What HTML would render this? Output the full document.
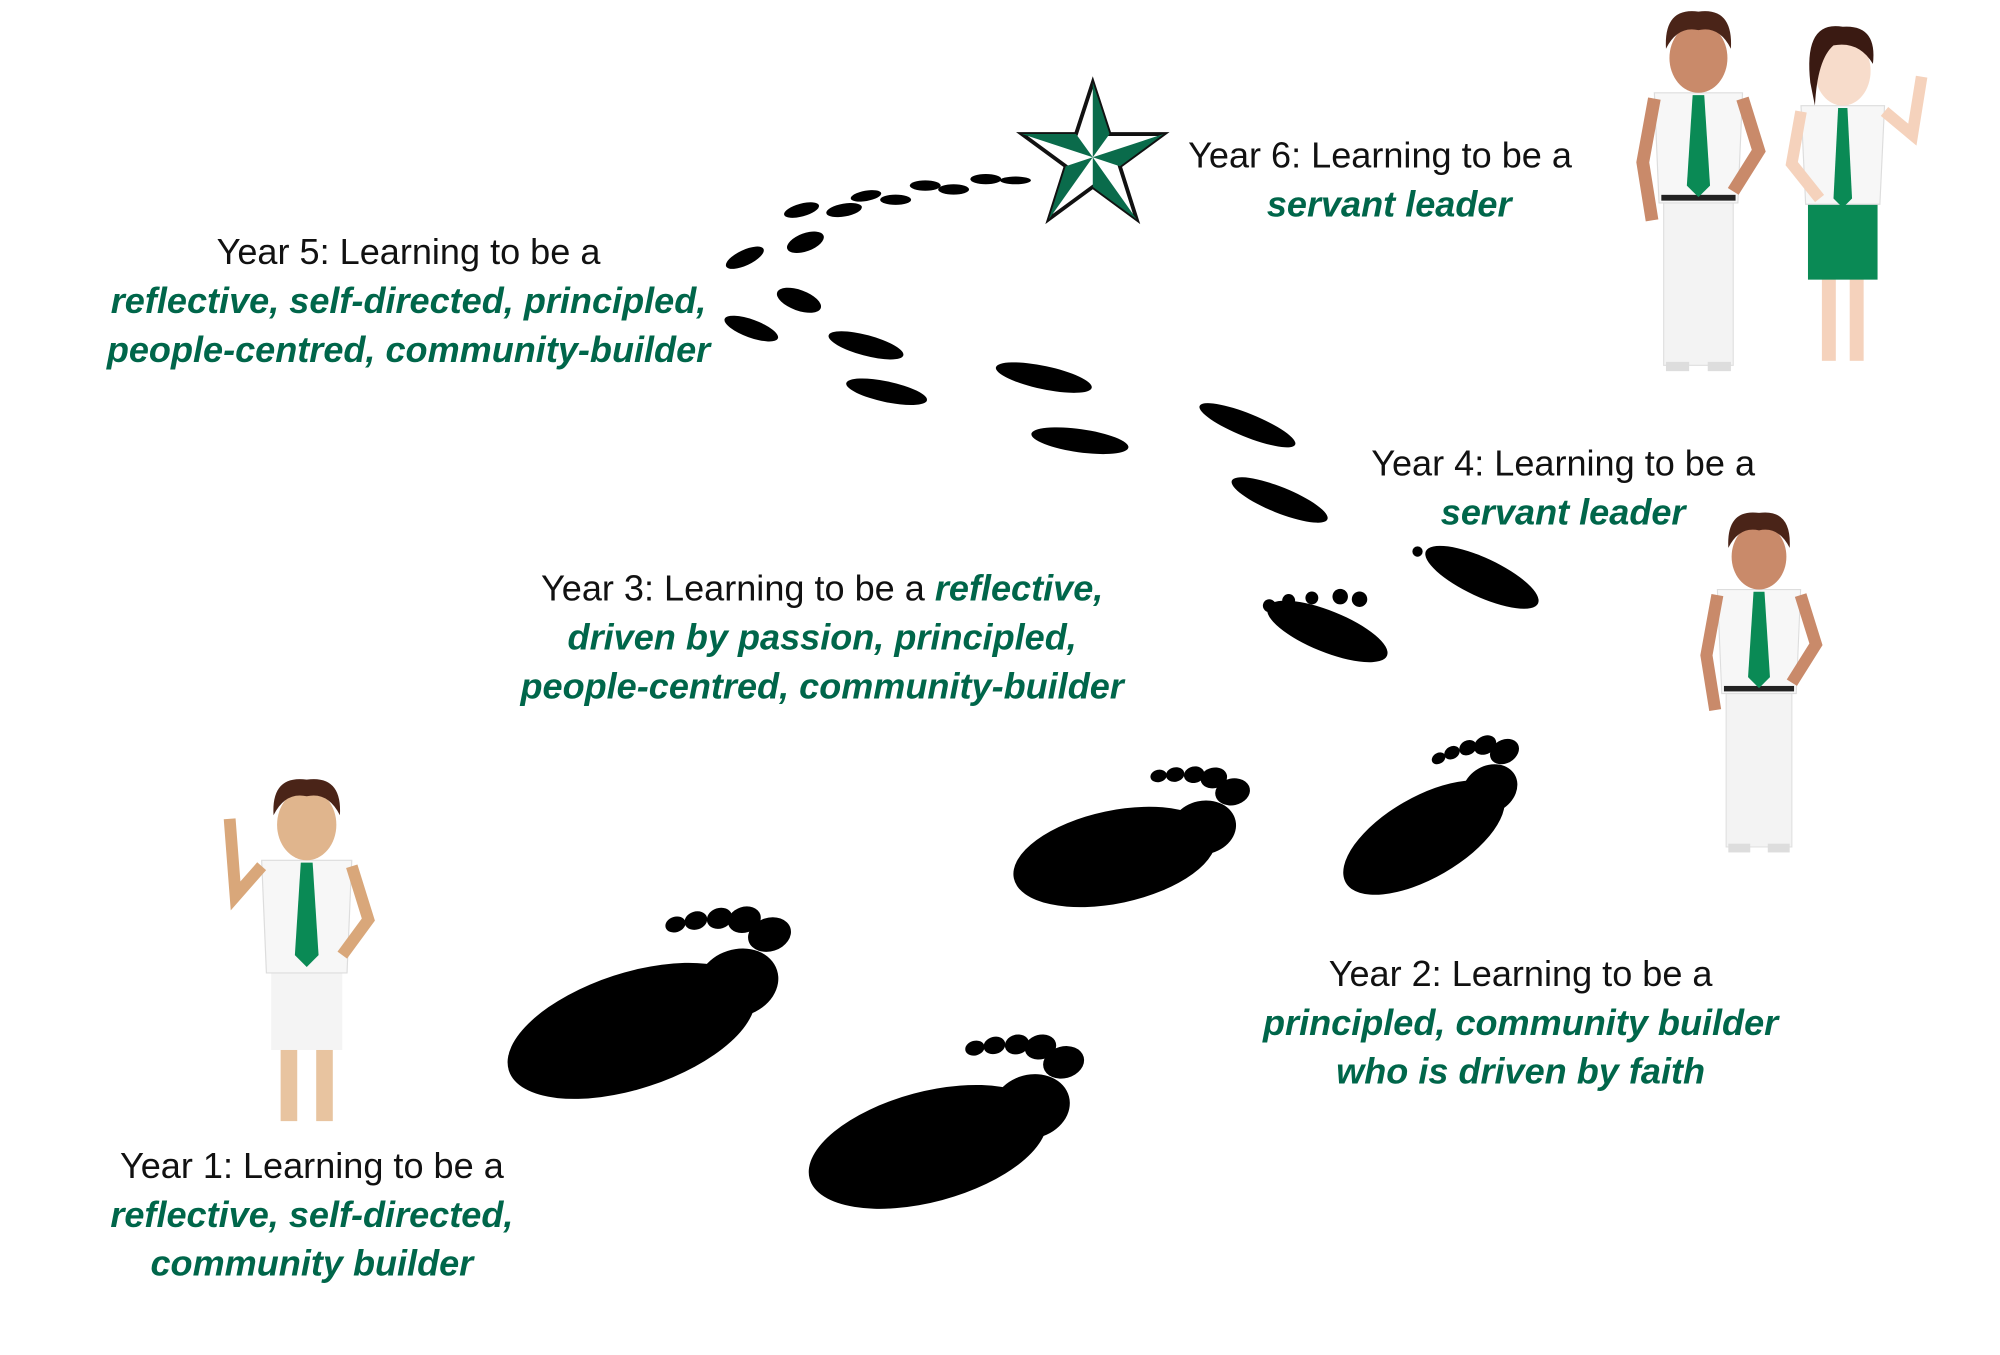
<!DOCTYPE html>
<html><head><meta charset="utf-8"><style>
html,body{margin:0;padding:0;background:#fff;}
svg{display:block;}
text{font-family:"Liberation Sans",sans-serif;font-size:28px;}
.b{fill:#111;}
.g{fill:#00664a;font-weight:bold;font-style:italic;}
</style></head><body>
<svg width="2000" height="1355" viewBox="0 0 1552 1051.5" xmlns="http://www.w3.org/2000/svg">
<defs>
<g id="foot">
<ellipse cx="0" cy="0" rx="100" ry="45"/>
<ellipse cx="90" cy="-10" rx="32" ry="26"/>
<ellipse cx="110" cy="-55" rx="13" ry="10"/>
<ellipse cx="92" cy="-62" rx="10" ry="8"/>
<ellipse cx="74" cy="-66" rx="9" ry="7"/>
<ellipse cx="58" cy="-68" rx="8" ry="6"/>
<ellipse cx="125" cy="-38" rx="17" ry="13"/>
</g>
<g id="boy">
<rect x="-22" y="120" width="14" height="130" fill="#e8c4a0"/>
<rect x="8" y="120" width="14" height="130" fill="#e8c4a0"/>
<rect x="-30" y="110" width="60" height="80" fill="#f4f4f4"/>
<path d="M-38 30 L38 30 L34 125 L-34 125 Z" fill="#f7f7f7" stroke="#ddd"/>
<path d="M-5 32 L5 32 L10 110 L0 120 L-10 110 Z" fill="#0a8a55"/>
<path d="M-38 35 L-60 60 L-65 -5" fill="none" stroke="#d9a77a" stroke-width="10"/>
<path d="M38 35 L52 80 L30 110" fill="none" stroke="#d9a77a" stroke-width="10"/>
<ellipse cx="0" cy="0" rx="25" ry="30" fill="#e0b58d"/>
<path d="M-28 -8 Q-30 -42 0 -38 Q30 -42 28 -8 Q18 -28 0 -24 Q-18 -28 -28 -8Z" fill="#4a2418"/>
</g>
<g id="boy2">
<rect x="-30" y="115" width="60" height="150" fill="#f3f3f3" stroke="#e0e0e0"/>
<rect x="-28" y="262" width="20" height="8" fill="#ddd"/>
<rect x="8" y="262" width="20" height="8" fill="#ddd"/>
<path d="M-38 30 L38 30 L34 125 L-34 125 Z" fill="#f7f7f7" stroke="#ddd"/>
<rect x="-32" y="118" width="64" height="5" fill="#222"/>
<path d="M-5 32 L5 32 L10 110 L0 120 L-10 110 Z" fill="#0a8a55"/>
<path d="M-38 35 L-48 90 L-40 140" fill="none" stroke="#c98a6a" stroke-width="11"/>
<path d="M38 35 L52 80 L30 115" fill="none" stroke="#c98a6a" stroke-width="11"/>
<ellipse cx="0" cy="0" rx="25" ry="30" fill="#c98a6a"/>
<path d="M-28 -8 Q-30 -44 0 -40 Q30 -44 28 -8 Q18 -28 0 -24 Q-18 -28 -28 -8Z" fill="#4a2418"/>
</g>
</defs>

<!-- footprints -->
<g fill="#000">
<use href="#foot" transform="translate(490,800) rotate(-18) scale(1)"/>
<use href="#foot" transform="translate(720,890) rotate(-15) scale(0.95)"/>
<use href="#foot" transform="translate(865,665) rotate(-12) scale(0.8)"/>
<use href="#foot" transform="translate(1105,650) rotate(-30) scale(0.7)"/>
<ellipse cx="1030" cy="490" rx="50" ry="16" transform="rotate(22 1030 490)"/>
<circle cx="985" cy="470" r="5"/><circle cx="1000" cy="466" r="5"/><circle cx="1018" cy="464" r="5"/><circle cx="1040" cy="463" r="6"/><circle cx="1055" cy="465" r="6"/>
<ellipse cx="1150" cy="448" rx="48" ry="15" transform="rotate(25 1150 448)"/>
<circle cx="1100" cy="428" r="4"/><circle cx="1115" cy="430" r="4"/><circle cx="1130" cy="432" r="4"/><circle cx="1145" cy="435" r="5"/>
<ellipse cx="993" cy="388" rx="40" ry="10" transform="rotate(22 993 388)"/>
<ellipse cx="968" cy="330" rx="40" ry="9" transform="rotate(22 968 330)"/>
<ellipse cx="838" cy="342" rx="38" ry="9" transform="rotate(8 838 342)"/>
<ellipse cx="810" cy="293" rx="38" ry="9" transform="rotate(12 810 293)"/>
<ellipse cx="688" cy="304" rx="32" ry="8" transform="rotate(12 688 304)"/>
<ellipse cx="672" cy="268" rx="30" ry="8" transform="rotate(15 672 268)"/>
<ellipse cx="620" cy="233" rx="18" ry="8" transform="rotate(20 620 233)"/>
<ellipse cx="583" cy="255" rx="22" ry="7" transform="rotate(20 583 255)"/>
<ellipse cx="625" cy="188" rx="15" ry="7" transform="rotate(-20 625 188)"/>
<ellipse cx="578" cy="200" rx="16" ry="6" transform="rotate(-25 578 200)"/>
<ellipse cx="622" cy="163" rx="14" ry="5" transform="rotate(-15 622 163)"/>
<ellipse cx="655" cy="163" rx="14" ry="5" transform="rotate(-10 655 163)"/>
<ellipse cx="672" cy="152" rx="12" ry="4" transform="rotate(-10 672 152)"/>
<ellipse cx="695" cy="155" rx="12" ry="4"/>
<ellipse cx="718" cy="144" rx="12" ry="4"/>
<ellipse cx="740" cy="147" rx="12" ry="4"/>
<ellipse cx="765" cy="139" rx="12" ry="4"/>
<ellipse cx="788" cy="140" rx="12" ry="3"/>
</g>

<!-- star -->
<g transform="translate(848,122)">
<polygon points="0,-58 13,-18 55,-18 21,7 34,48 0,23 -34,48 -21,7 -55,-18 -13,-18" fill="#fff" stroke="#111" stroke-width="3"/>
<polygon points="0,-58 13,-18 0,0" fill="#0a6b4b"/>
<polygon points="55,-18 21,7 0,0" fill="#0a6b4b"/>
<polygon points="34,48 0,23 0,0" fill="#0a6b4b"/>
<polygon points="-34,48 -21,7 0,0" fill="#0a6b4b"/>
<polygon points="-55,-18 -13,-18 0,0" fill="#0a6b4b"/>
</g>

<!-- characters -->
<use href="#boy" transform="translate(238,640) scale(0.92)"/>
<use href="#boy2" transform="translate(1365,432) scale(0.85)"/>
<use href="#boy2" transform="translate(1318,45) scale(0.9)"/>
<g transform="translate(1430,55) scale(0.9)">
<rect x="-18" y="130" width="12" height="120" fill="#f5d2bc"/>
<rect x="6" y="130" width="12" height="120" fill="#f5d2bc"/>
<rect x="-30" y="110" width="60" height="70" fill="#0a8a55"/>
<path d="M-36 30 L36 30 L32 115 L-32 115 Z" fill="#f7f7f7" stroke="#ddd"/>
<path d="M-4 32 L4 32 L8 110 L0 118 L-8 110 Z" fill="#0a8a55"/>
<path d="M36 35 L60 55 L68 5" fill="none" stroke="#f5d2bc" stroke-width="10"/>
<path d="M-36 35 L-44 80 L-20 110" fill="none" stroke="#f5d2bc" stroke-width="10"/>
<ellipse cx="0" cy="0" rx="24" ry="30" fill="#f7dccb"/>
<path d="M-28 10 Q-34 -44 0 -38 Q30 -40 26 -6 Q14 -26 -8 -22 Q-22 -10 -24 30Z" fill="#3a1a12"/>
</g>

<!-- text -->
<text x="317" y="205" text-anchor="middle" class="b">Year 5:  Learning to be a</text>
<text x="317" y="243" text-anchor="middle" class="g">reflective, self-directed, principled,</text>
<text x="317" y="281" text-anchor="middle" class="g">people-centred, community-builder</text>

<text x="922" y="130" class="b">Year 6:  Learning to be a</text>
<text x="1078" y="168" text-anchor="middle" class="g">servant leader</text>

<text x="1213" y="369" text-anchor="middle" class="b">Year 4:  Learning to be a</text>
<text x="1213" y="407" text-anchor="middle" class="g">servant leader</text>

<text x="638" y="466" text-anchor="middle"><tspan class="b">Year 3:  Learning to be a </tspan><tspan class="g">reflective,</tspan></text>
<text x="638" y="504" text-anchor="middle" class="g">driven by passion, principled,</text>
<text x="638" y="542" text-anchor="middle" class="g">people-centred, community-builder</text>

<text x="1180" y="765" text-anchor="middle" class="b">Year 2:  Learning to be a</text>
<text x="1180" y="803" text-anchor="middle" class="g">principled, community builder</text>
<text x="1180" y="841" text-anchor="middle" class="g">who is driven by faith</text>

<text x="242" y="914" text-anchor="middle" class="b">Year 1:  Learning to be a</text>
<text x="242" y="952" text-anchor="middle" class="g">reflective, self-directed,</text>
<text x="242" y="990" text-anchor="middle" class="g">community builder</text>
</svg>
</body></html>
